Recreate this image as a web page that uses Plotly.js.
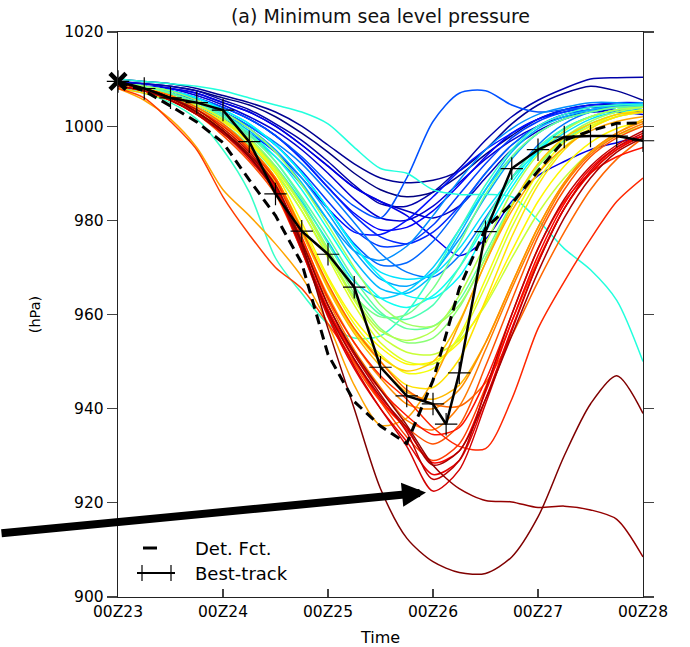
<!DOCTYPE html>
<html>
<head>
<meta charset="utf-8">
<script src="https://cdn.plot.ly/plotly-3.0.1.min.js"></script>
<style>html,body{margin:0;padding:0;background:#fff;}#chart{width:690px;height:647px;}</style>
</head>
<body>
<div id="chart"></div>
<script>
// forecast hours from 00Z23 (6-hourly)
const hours = [0,6,12,18,24,30,36,42,48,54,60,66,72,78,84,90,96,102,108,114,120];
const tickHours = [0,24,48,72,96,120];
const tickLabels = ['00Z23','00Z24','00Z25','00Z26','00Z27','00Z28'];
const yTicks = [900,920,940,960,980,1000,1020];

// deterministic forecast (hPa)
const detFct = [1009.5,1007.5,1004.3,1000.9,996.5,988.6,981,970.9,951.5,941.5,936.3,932.6,946,965.5,978.3,983.5,990.5,997,999,1000.6,1000.7];

// best track (hPa)
const bestHours = [0,6,12,18,24,30,36,42,48,54,60,66,72,75,78,84,90,96,102,108,114,120];
const bestTrack = [1009.5,1008,1006,1005,1003.4,996.7,985.6,977.7,972.8,965.8,948.8,942.7,941,936.7,947.6,977.6,991,995,997.7,997.9,997.9,996.9];

// ensemble members (hPa), ordered from weakest (blue) to deepest (dark red)
const ensemble = [
[1009.5,1009,1008.5,1007.5,1006,1004.5,1002, 998.5,994.5,990,986.5,985,986,989.5, 994,998,1001.5,1003.5,1004.5,1004.5,1004],
[1010,1009.5,1009,1008,1006.5,1005,1003, 1000,996,992,989,988,988.5,990.5, 995,1000.5,1004.5,1007,1008.5,1007.5,1005.5],
[1009,1009,1008.5,1007.5,1005.5,1003.5,1000.5, 997,992.5,987.5,983.5,983,986,991, 997,1002,1005.5,1008,1010,1010.3,1010.4],
[1009,1008.5,1008,1007,1005,1003,1000, 996,991.5,987,984,982,980.5,983, 989,995,999,1001.5,1003,1003.5,1003],
[1009.5,1009,1008,1006.5,1004.5,1002,999, 995,990,984.5,980.5,980,983,988, 993,997,1000,1002,1003,1003,1002.5],
[1009,1008.5,1008,1007,1005,1003,1000, 996,991.5,987,984,981,976.5,972.5, 976,984,989.5,992.5,995,996.5,997.8],
[1009,1008.5,1007.5,1006,1004,1001.5,998, 993,987,981.5,978,978.5,982,987.5, 993.5,998.5,1001.5,1003,1004,1004.5,1004],
[1008.5,1007.5,1006,1004,1001.5,998.5,994.5, 989,982.5,977.5,977,980,985,990.5, 995,998.5,1001.5,1003.5,1004.5,1005,1005],
[1009,1008.5,1007.5,1006,1004,1001.5,998, 993,987,981,976.5,975,977.5,983, 990,996,1000,1002.5,1003.5,1004,1003.5],
[1008.5,1008,1007,1005,1003,1000,996, 990.5,984,978,974.5,975,979,985.5, 992,997.5,1001,1003,1004,1004.5,1004.5],
[1009,1008.5,1007.5,1006,1004,1001.5,998, 993.5,988,983,980.5,989,1001,1007, 1007.5,1004.5,1003,1003.5,1004,1004,1003.5],
[1008.5,1008,1007,1005.5,1003,1000,996, 990,982.5,975,970.5,971,975.5,982.5, 990,996,1000,1002.5,1003.5,1004,1004],
[1009,1008.5,1007.5,1005.5,1003,1000,996.5, 992,986,979.5,973,969,968,972.5, 980.5,989,996,1000.5,1003,1004,1004],
[1008,1007.5,1006,1004,1001.5,998,993.5, 987.5,980,973.5,971.5,974.5,981,988.5, 995,999.5,1002.5,1004,1005,1005,1004.5],
[1009,1008,1007,1005,1002.5,999.5,995, 989,981.5,973.5,967.5,966,969,976, 985,993,998.5,1001.5,1003,1004,1004],
[1008.5,1008,1007,1005,1002.5,999,994.5, 988,980,971.5,965.5,964.5,968.5,977, 986.5,994.5,999.5,1002,1003.5,1004.5,1005],
[1009,1008,1006.5,1004,1001,997,991.5, 984,975.5,967,963.5,965,970,978, 986.5,993.5,998.5,1001.5,1003,1004,1004.5],
[1009,1008.5,1007.5,1006,1003.5,1000.5,996, 990,982.5,974.5,969,967.5,968.5,974, 982,989,994.5,998.5,1001.5,1003,1003.5],
[1009,1008.5,1007.5,1006,1003.5,1000.5,996, 990,982.5,974.5,968,964,963.5,968, 977.5,987,994.5,999.5,1002,1003.5,1004],
[1009,1008,1006.5,1004.5,1002,998.5,993.5, 986.5,978,969.5,963.5,961.5,964,970, 979,988,995,999.5,1002,1003.5,1004],
[1010,1009.5,1009,1008.5,1007.5,1006,1004.5, 1003,1000.5,995.5,991,990,986.5,985.5, 985.5,985,980,974,969.5,963,950],
[1008,1007,1005,1001.5,995,986,972, 964.5,958,955,955.5,960.5,968.5,978, 987.5,995,1000,1002.5,1004,1004.5,1004.5],
[1008.5,1008,1007,1005,1002.5,998.5,992.5, 984.5,975,966,960,959,962,970, 980,989,995.5,999.5,1002,1003.5,1004],
[1009,1008.5,1007,1005,1002,998,992.5, 985,976.5,967.5,960.5,957,957.5,963, 973,983.5,991.5,997,1000.5,1002.5,1003.5],
[1008.5,1007.5,1006,1003.5,1000.5,996,990, 982,972.5,964,959.5,960,965.5,975, 985.5,993.5,998.5,1001.5,1003,1004,1004],
[1009,1008,1006.5,1004.5,1001.5,997.5,991.5, 983.5,974,964.5,957,954,955,961.5, 972,983,991.5,997,1000,1002,1003],
[1009,1008.5,1007.5,1005.5,1003,999.5,994.5, 987.5,979,970,962,958,957.5,962, 972,983,991.5,997.5,1001,1003,1004],
[1008.5,1008,1006.5,1004,1001,997,991, 983,973.5,963.5,956.5,954.5,956.5,964, 975,986,994,999,1002,1003.5,1004],
[1009,1008,1006.5,1004,1001,997,991, 983,973,963,955.5,952,951.5,954.5, 962,972,981.5,989,994.5,998,1000],
[1009,1008,1006.5,1004.5,1001.5,997,990.5, 982,972,962,954,950,949.5,955, 966,978.5,988.5,995.5,999.5,1002,1003],
[1008.5,1007.5,1006,1003.5,1000,995.5,989, 978.5,967.5,958,951.5,947.5,948.5,955.5, 967.5,980,990,996.5,1000,1002.5,1003.5],
[1009,1008,1006.5,1004,1001,996.5,990, 979.5,968,959,953,949.5,950,954, 962.5,973.5,984,991.5,996.5,999.5,1001],
[1008.5,1007.5,1006,1003.5,1000,995.5,989, 978,966,956.5,950,945,944.5,950.5, 963,976.5,987.5,995,999.5,1002,1003],
[1008,1007,1005.5,1003,999.5,994.5,988, 977.5,966,957,951,948,950,958.5, 971,983,992,997.5,1000.5,1002.5,1003],
[1009,1008,1006,1003.5,1000,995,988.5, 977.5,965.5,956,949,943.5,942,945, 954,966.5,978.5,988,994.5,998.5,1001.5],
[1008,1005.5,1001.5,995.5,986.5,981,975, 968,958,945,936.5,938,946,958, 971,982,990,995.5,999,1001,1002],
[1008.5,1007.5,1005.5,1002.5,998.5,993.5,987, 976,964,954,946.5,941,940,944, 954,966.5,978.5,988,994.5,998.5,1001],
[1009,1008,1006,1003,999,994,987, 975.5,963,952.5,944.5,937.5,935.5,940.5, 952.5,965.5,977.5,987.5,994,998,1000.5],
[1009,1008,1006.5,1004,1000.5,995.5,989, 978,966.5,957,950,944,941,940.5, 945.5,955.5,967,977.5,986.5,993,997.5],
[1008.5,1007.5,1005.5,1002.5,998,992.5,985.5, 973.5,960,949.5,941.5,936,932.5,936.5, 949,963,976.5,986.5,993.5,997.5,1000],
[1008,1006,1001,995,985,977,970, 965.5,958,950,941.5,934,929,932.5, 944.5,958.5,971.5,982.5,990,995,998],
[1009,1008,1006,1003.5,1000,995,988.5, 976.5,963.5,954,947,942,936,932, 931.5,942,957,967,976,984,989],
[1008.5,1007.5,1005.5,1002.5,998.5,993.5,986.5, 974,961,951.5,944,938.5,934.5,936, 946,960,974,984,990,993.5,995.5],
[1009,1008,1006,1003,999,994,987, 974.5,961,950.5,942,935.5,928.5,931, 943.5,958.5,972.5,983.5,991,995.5,998],
[1008.5,1007.5,1005.5,1002.5,998.5,993,986, 973.5,959.5,948.5,940,933,926,929, 942,957,971,982.5,990,995,998],
[1009,1008,1006,1003,999,993.5,986.5, 974,960,949,940,932,922.5,927, 941,956.5,971,982.5,990.5,995.5,998.5],
[1009,1008,1006,1003.5,999.5,994.5,987.5, 975.5,962,951.5,943,935,925,929, 944,960,974,984.5,991.5,996,999],
[1008.5,1007.5,1005.5,1002.5,998.5,993.5,986.5, 974,960.5,950.5,942.5,936,928,931, 942,955.5,969,980.5,989,994.5,997.5],
[1009,1008,1006,1003,999,994,987.5, 975.5,962,952,944,936.5,928,923, 920.5,920.2,919,919.3,918.5,916.5,908.5],
[1009,1008,1006,1003,999,993.5,986, 975,957,940,923,912.5,907.5,905.2, 905,908.5,917,930,941,947,939]
];

const FONT = 'DejaVu Sans, Verdana, sans-serif';

function clip(v){ return Math.max(0, Math.min(1, v)); }
function jet(t){
  const r = clip(1.5 - Math.abs(4*t - 3));
  const g = clip(1.5 - Math.abs(4*t - 2));
  const b = clip(1.5 - Math.abs(4*t - 1));
  return 'rgb(' + Math.round(r*255) + ',' + Math.round(g*255) + ',' + Math.round(b*255) + ')';
}

const traces = [];
ensemble.forEach(function(vals, i){
  traces.push({
    type: 'scatter', mode: 'lines', x: hours, y: vals,
    line: {color: jet(i/(ensemble.length-1)), width: 1.5, shape: 'spline', smoothing: 0.8},
    showlegend: false, hoverinfo: 'skip'
  });
});
traces.push({
  type: 'scatter', mode: 'lines', x: hours, y: detFct, name: 'Det. Fct.',
  line: {color: '#000', width: 3, dash: '10px,6px'}, showlegend: false
});
traces.push({
  type: 'scatter', mode: 'lines+markers', x: bestHours, y: bestTrack, name: 'Best-track',
  line: {color: '#000', width: 2.5},
  marker: {symbol: 'cross-thin', size: 16, line: {color: '#000', width: 1.2}},
  cliponaxis: false, showlegend: false
});
traces.push({
  type: 'scatter', mode: 'markers', x: [bestHours[0]], y: [bestTrack[0]],
  marker: {symbol: 'x-thin', size: 16, line: {color: '#000', width: 4.5}},
  cliponaxis: false, showlegend: false
});

// plot area pixel geometry (for legend/arrow decorations)
const L = 118, R = 643, T = 32, B = 597;
function px(x){ return (x - L) / (R - L); }
function py(y){ return (B - y) / (B - T); }

const shapes = [
  {type:'line', xref:'paper', yref:'paper', x0:px(143), x1:px(157), y0:py(548), y1:py(548), line:{color:'#000', width:3}},
  {type:'line', xref:'paper', yref:'paper', x0:px(137), x1:px(175), y0:py(573), y1:py(573), line:{color:'#000', width:2}},
  {type:'line', xref:'paper', yref:'paper', x0:px(142), x1:px(142), y0:py(565), y1:py(581), line:{color:'#000', width:1.2}},
  {type:'line', xref:'paper', yref:'paper', x0:px(171), x1:px(171), y0:py(565), y1:py(581), line:{color:'#000', width:1.2}}
];

const annotations = [
  {xref:'paper', yref:'paper', x:px(193), y:py(548), xanchor:'left', yanchor:'middle', text:'Det. Fct.', showarrow:false, font:{family:FONT, size:18, color:'#000'}},
  {xref:'paper', yref:'paper', x:px(193), y:py(573), xanchor:'left', yanchor:'middle', text:'Best-track', showarrow:false, font:{family:FONT, size:18, color:'#000'}},
  {x: 70.4, y: 922.2, xref:'x', yref:'y', ax: -430, ay: 41, text: '', showarrow: true,
   arrowhead: 2, arrowsize: 0.6, arrowwidth: 8, arrowcolor: '#000', standoff: 0}
];

const layout = {
  width: 690, height: 647,
  margin: {l: L, r: 690 - R, t: T, b: 647 - B},
  paper_bgcolor: '#fff', plot_bgcolor: '#fff',
  font: {family: FONT, color: '#000'},
  title: {text: '(a) Minimum sea level pressure', font: {family: FONT, size: 19, color: '#111'},
          x: 0.5, xref: 'paper', y: 1 - 16/647, yref: 'container', yanchor: 'middle'},
  showlegend: false,
  xaxis: {
    range: [0, 120], tickvals: tickHours, ticktext: tickLabels,
    ticks: 'inside', ticklen: 8, tickcolor: '#444', tickwidth: 1.2,
    showline: true, linecolor: '#222', linewidth: 1.2, mirror: true,
    showgrid: false, zeroline: false, automargin: false,
    tickfont: {family: FONT, size: 15.5, color: '#000'},
    title: {text: 'Time', font: {family: FONT, size: 16, color: '#000'}, standoff: 12}
  },
  yaxis: {
    range: [900, 1020], tickvals: yTicks,
    ticks: 'outside', ticklen: 10, tickcolor: '#444', tickwidth: 1.2,
    showline: true, linecolor: '#222', linewidth: 1.2, mirror: 'ticks',
    showgrid: false, zeroline: false, automargin: false,
    tickfont: {family: FONT, size: 15.5, color: '#000'},
    title: {text: '(hPa)', font: {family: FONT, size: 14.5, color: '#000'}, standoff: 20}
  },
  shapes: shapes,
  annotations: annotations
};

Plotly.newPlot('chart', traces, layout, {displayModeBar: false, staticPlot: true});
</script>
</body>
</html>
